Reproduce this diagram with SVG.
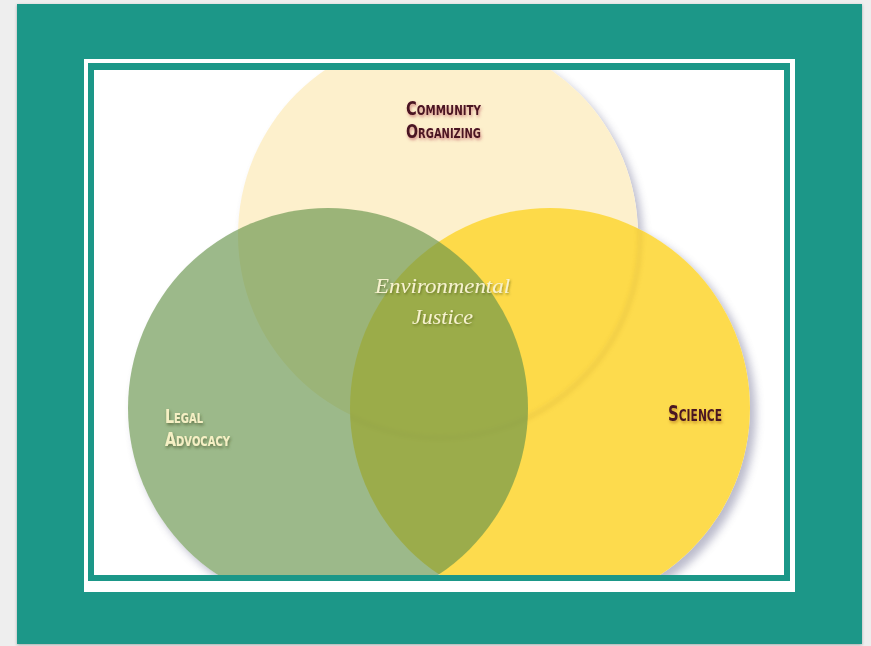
<svg xmlns="http://www.w3.org/2000/svg" width="871" height="646" viewBox="0 0 871 646">
  <style>
    .lbl { font-family: "Liberation Sans Narrow", "DejaVu Sans Condensed", "Liberation Sans", sans-serif; font-weight: bold; font-variant: small-caps; font-size: 20px; }
    .dark { fill: #4a1222; }
    .light { fill: #f6f0c4; }
    .script { font-family: "Liberation Serif", "DejaVu Serif", serif; font-style: italic; fill: #f7f2cf; font-size: 22px; }
  </style>
  <defs>
    <clipPath id="inner"><rect x="94" y="70" width="690" height="505"/></clipPath>
    <clipPath id="inYellow"><circle cx="550" cy="408" r="200"/></clipPath>
    <mask id="noCircles">
      <rect x="0" y="0" width="871" height="646" fill="#fff"/>
      <circle cx="438" cy="235" r="200" fill="#000"/>
      <circle cx="328" cy="408" r="200" fill="#000"/>
      <circle cx="550" cy="408" r="200" fill="#000"/>
    </mask>
    <filter id="blur" x="-20%" y="-20%" width="140%" height="140%"><feGaussianBlur stdDeviation="4"/></filter>
    <filter id="blurS" x="-20%" y="-20%" width="140%" height="140%"><feGaussianBlur stdDeviation="2.5"/></filter>
    <filter id="pageShadow" x="-5%" y="-5%" width="110%" height="110%"><feDropShadow dx="0" dy="1" stdDeviation="1.5" flood-color="#000" flood-opacity="0.3"/></filter>
    <filter id="shRed" x="-20%" y="-40%" width="140%" height="180%"><feDropShadow dx="1" dy="2" stdDeviation="1.6" flood-color="#b03a4c" flood-opacity="0.55"/></filter>
    <filter id="shDark" x="-20%" y="-40%" width="140%" height="180%"><feDropShadow dx="1" dy="2" stdDeviation="1.4" flood-color="#3d4a20" flood-opacity="0.6"/></filter>
    <filter id="shBrown" x="-20%" y="-40%" width="140%" height="180%"><feDropShadow dx="1" dy="2" stdDeviation="1.4" flood-color="#a06010" flood-opacity="0.55"/></filter>
    <filter id="shSoft" x="-20%" y="-40%" width="140%" height="180%"><feDropShadow dx="1" dy="1.5" stdDeviation="1.2" flood-color="#404a10" flood-opacity="0.5"/></filter>
  </defs>

  <rect x="0" y="0" width="871" height="646" fill="#eeeeee"/>
  <rect x="17" y="4" width="845" height="640" fill="#1b9788" filter="url(#pageShadow)"/>
  <rect x="84" y="59" width="711" height="533" fill="#ffffff"/>
  <rect x="88" y="63" width="702" height="518" fill="#1b9788"/>
  <rect x="94" y="70" width="690" height="505" fill="#ffffff"/>

  <g clip-path="url(#inner)">
    <g mask="url(#noCircles)" filter="url(#blur)" fill="#6c6c90" opacity="0.45">
      <circle cx="443" cy="241" r="200"/>
      <circle cx="333" cy="414" r="200"/>
      <circle cx="556" cy="414" r="200"/>
    </g>
    <g id="community-organizing">
      <circle cx="438" cy="235" r="200" fill="#fdf0cc"/>
    </g>
    <g id="science">
      <circle cx="550" cy="408" r="200" fill="#fdd83e" fill-opacity="0.92"/>
      <g clip-path="url(#inYellow)">
        <circle cx="440" cy="238" r="200" fill="none" stroke="#b08a20" stroke-width="3" opacity="0.25" filter="url(#blurS)"/>
      </g>
    </g>
    <g id="legal-advocacy">
      <circle cx="328" cy="408" r="200" fill="#66934a" fill-opacity="0.646"/>
    </g>
  </g>

  <g id="labels">
    <text class="lbl dark" x="406" y="115" textLength="75" lengthAdjust="spacingAndGlyphs" filter="url(#shRed)">Community</text>
    <text class="lbl dark" x="406" y="138" textLength="75" lengthAdjust="spacingAndGlyphs" filter="url(#shRed)">Organizing</text>
    <text class="lbl light" x="165" y="423" textLength="38" lengthAdjust="spacingAndGlyphs" filter="url(#shDark)">Legal</text>
    <text class="lbl light" x="165" y="446" textLength="65" lengthAdjust="spacingAndGlyphs" filter="url(#shDark)">Advocacy</text>
    <text class="lbl dark" x="668" y="421" textLength="54" lengthAdjust="spacingAndGlyphs" filter="url(#shBrown)" style="font-size:21px">Science</text>
    <text class="script" x="375" y="293" textLength="135" lengthAdjust="spacingAndGlyphs" filter="url(#shSoft)">Environmental</text>
    <text class="script" x="412" y="324" textLength="61" lengthAdjust="spacingAndGlyphs" filter="url(#shSoft)">Justice</text>
  </g>
</svg>
